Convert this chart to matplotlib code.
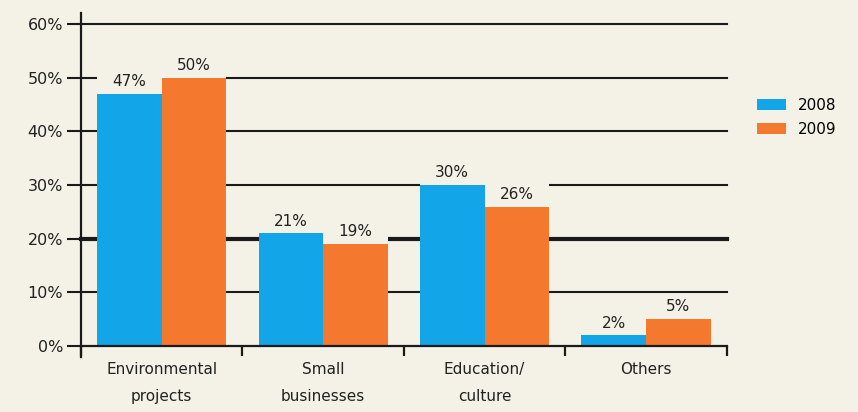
import numpy as np
from matplotlib import pyplot as plt

categories = ['Environmental\nprojects', 'Small\nbusinesses', 'Education/\nculture', 'Others']
values_2008 = [47, 21, 30, 2]
values_2009 = [50, 19, 26, 5]
yticks = [0, 10, 20, 30, 40, 50, 60]

bg = '#f4f1e6'
blue = '#12a6e8'
orange = '#f4792e'
ink = '#1a1a1a'

plt.rcParams['font.family'] = ['DejaVu Sans']

fig = plt.figure(figsize=(8.58, 4.12), dpi=100, facecolor=bg)
ax = fig.add_axes([0.0944, 0.160, 0.7526, 0.7817], facecolor=bg)

x = np.arange(len(categories))
w = 0.4
b1 = ax.bar(x - w / 2, values_2008, w, color=blue, label='2008', zorder=3)
b2 = ax.bar(x + w / 2, values_2009, w, color=orange, label='2009', zorder=3)

# value labels sit on a background-coloured strip that hides the gridlines
for bars, vals in [(b1, values_2008), (b2, values_2009)]:
    ax.bar([r.get_x() + r.get_width() / 2 for r in bars], [4.6] * len(vals), w,
           bottom=vals, color=bg, zorder=2)
    for r, v in zip(bars, vals):
        ax.text(r.get_x() + r.get_width() / 2, v + 0.9, f'{v}%', ha='center', va='bottom',
                fontsize=11, color='#222222', zorder=4)

# gridlines (20% line is bolder in the original)
for t in yticks[1:]:
    ax.axhline(t, color=ink, lw=3.0 if t == 20 else 1.5, zorder=1, clip_on=False)

ax.set_xlim(-0.5, len(categories) - 0.5)
ax.set_ylim(0, 60)

for s in ['top', 'right', 'left']:
    ax.spines[s].set_visible(False)
ax.spines['bottom'].set_linewidth(1.6)
ax.spines['bottom'].set_color(ink)
ax.spines['bottom'].set_zorder(5)

# y axis line extending a bit above and below
ax.plot([0, 0], [-0.035, 1.035], transform=ax.transAxes, color=ink, lw=1.6, clip_on=False, zorder=5)

ax.set_yticks(yticks)
ax.set_yticklabels([f'{t}%' for t in yticks], fontsize=11.5, color='#222222')
ax.tick_params(axis='y', length=10, width=1.5, color=ink, pad=3)

ax.set_xticks(np.arange(len(categories) + 1) - 0.5)
ax.set_xticklabels([])
ax.tick_params(axis='x', length=7, width=1.6, color=ink)
for i, c in enumerate(categories):
    ax.text(i, -2.9, c, ha='center', va='top', fontsize=11, color='#222222', linespacing=2.05)

fig.legend(loc='upper left', bbox_to_anchor=(0.866, 0.795), frameon=False, fontsize=11,
           handlelength=1.9, handleheight=0.75, handletextpad=0.8, labelspacing=0.55)

fig.savefig('out.png', dpi=100, facecolor=bg)
